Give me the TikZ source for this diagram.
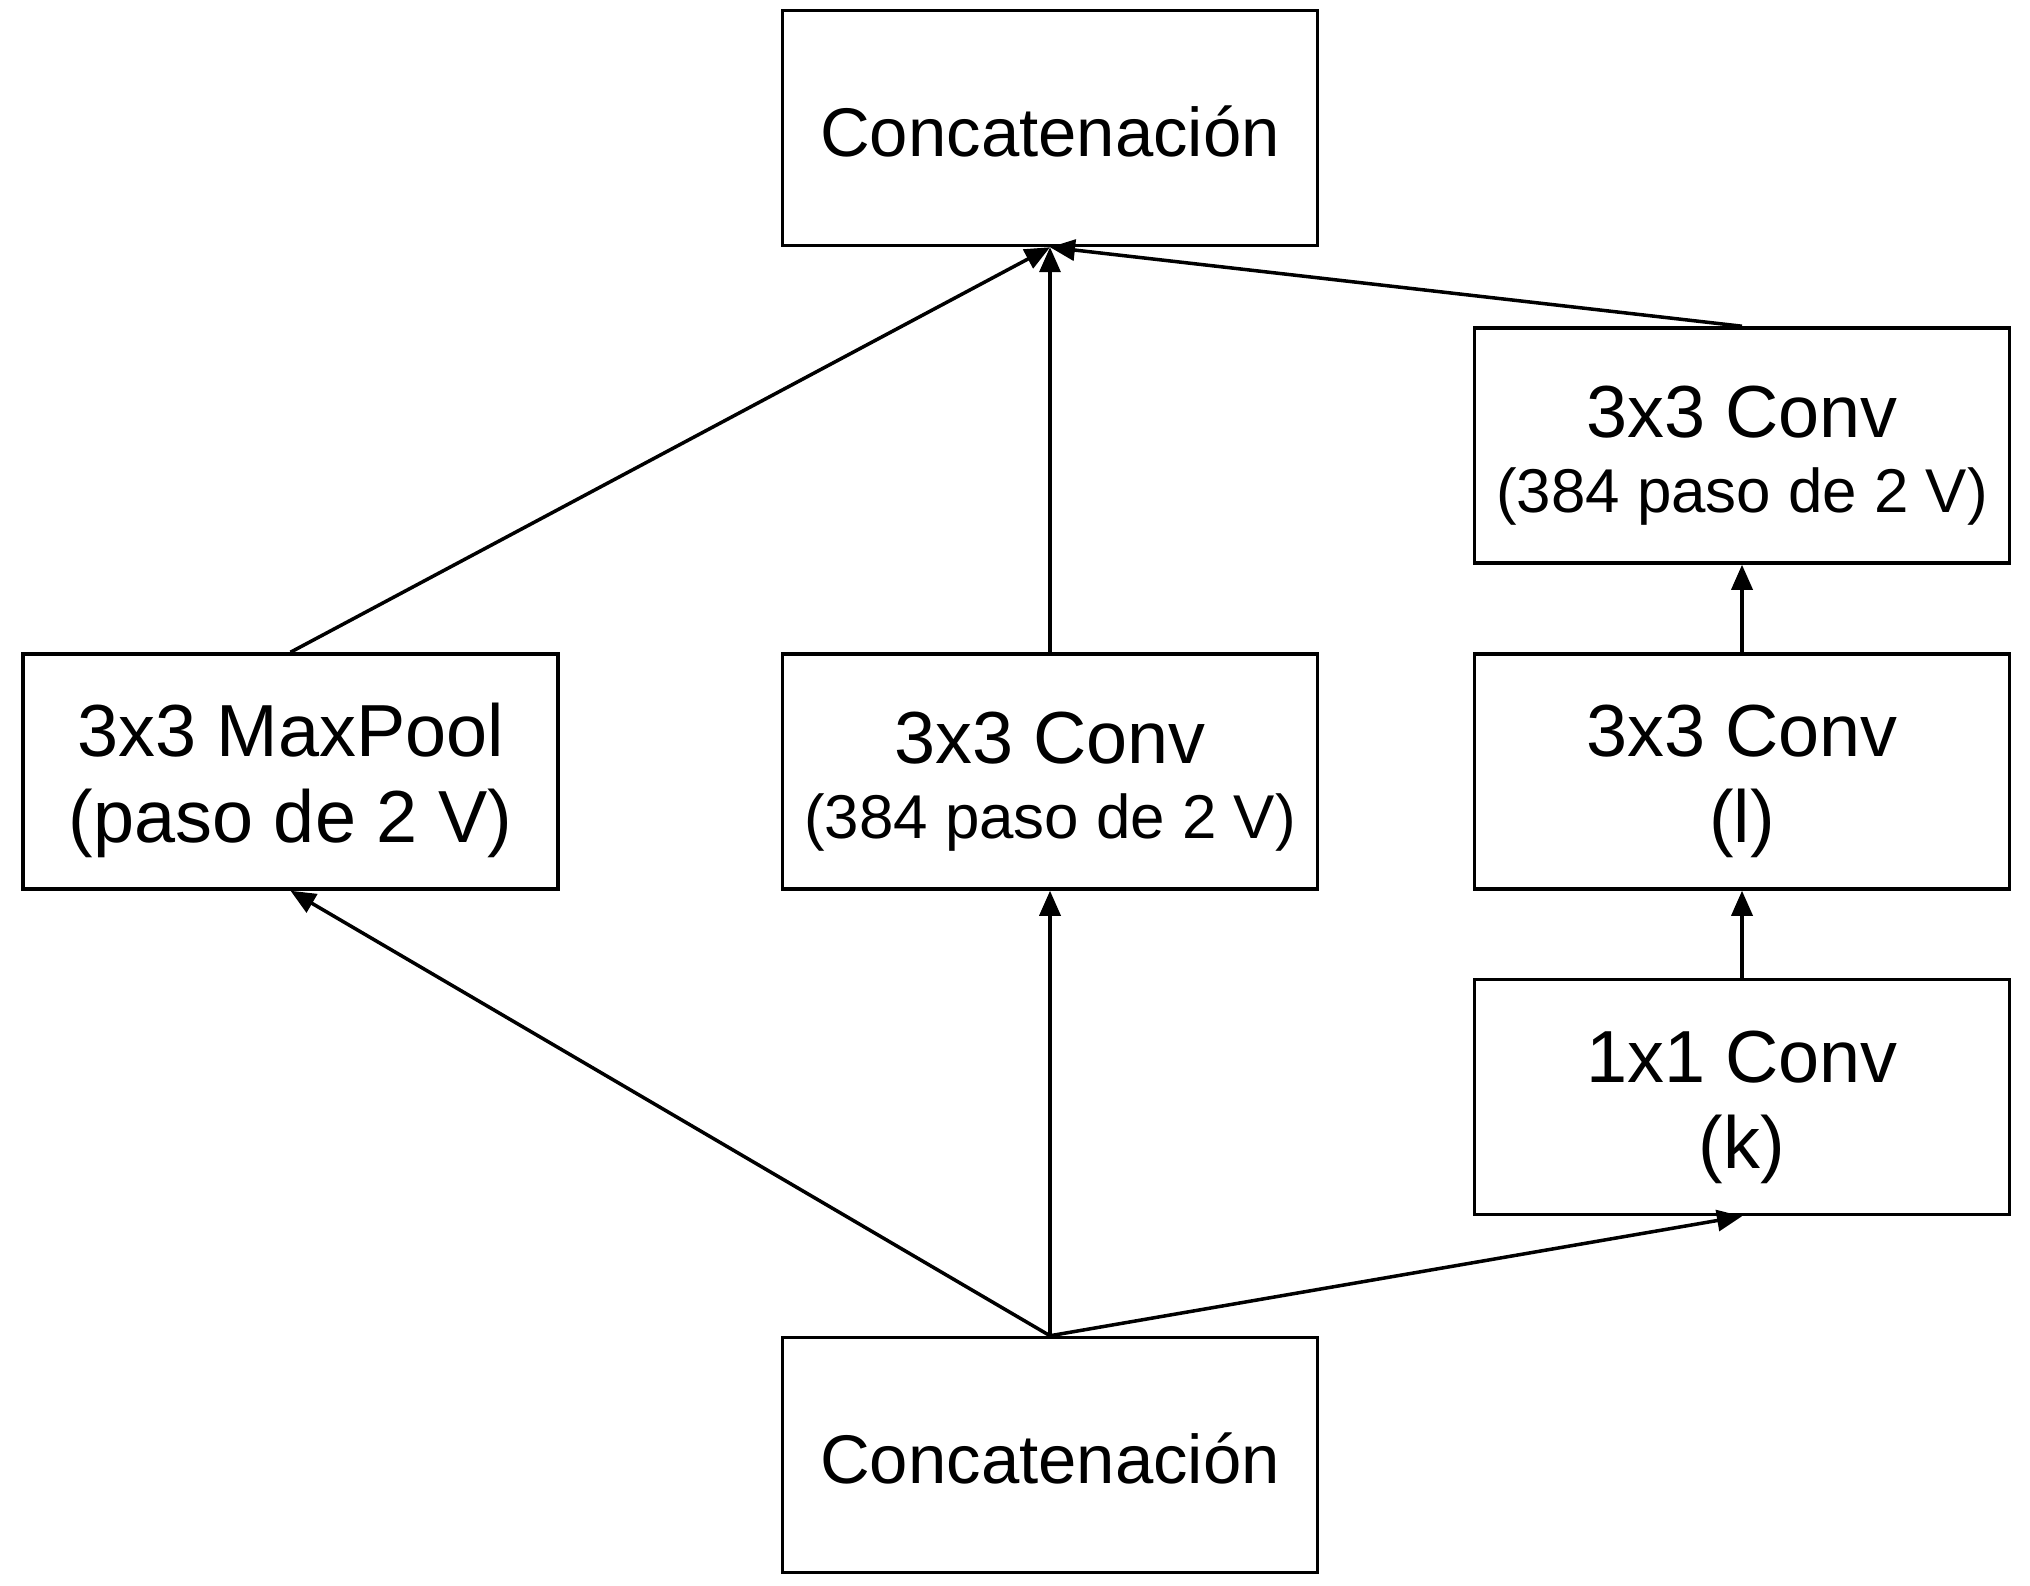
\documentclass[tikz,border=0pt]{standalone}
\usepackage{fontspec}
\setmainfont{Liberation Sans}
\usetikzlibrary{arrows.meta}
\newcommand{\pasotxt}[1]{{\fontsize{17.6}{21}\selectfont #1}}
\newcommand{\lineup}{\rule{0pt}{20.4pt}}

\begin{document}
\begin{tikzpicture}[
  box/.style={draw, line width=1pt, minimum width=5.35cm, minimum height=2.35cm,
              inner sep=0pt, align=center, font=\fontsize{21}{24.4}\selectfont},
  conn/.style={line width=1pt, -{Triangle[length=0.25cm,width=0.21cm]}}
]
\useasboundingbox (0,0) rectangle (20.30,-15.86);
\node[box, font=\fontsize{19.6}{23}\selectfont] (top) at (10.50,-1.28) {\rule{0pt}{16.4pt}Concatenación};
\node[box] (pool)  at (2.905,-7.715) {\lineup 3x3 MaxPool\\(paso de 2 V)};
\node[box] (conv)  at (10.50,-7.715) {\lineup 3x3 Conv\\[-3pt]\pasotxt{(384 paso de 2 V)}};
\node[box] (convb) at (17.42,-4.455) {\lineup 3x3 Conv\\[-3pt]\pasotxt{(384 paso de 2 V)}};
\node[box] (conva) at (17.42,-7.715) {\lineup 3x3 Conv\\(l)};
\node[box] (red)   at (17.42,-10.97) {\lineup 1x1 Conv\\(k)};
\node[box, font=\fontsize{19.6}{23}\selectfont] (bot) at (10.50,-14.55) {\rule{0pt}{16.4pt}Concatenación};

% salidas hacia la concatenacion de arriba
\draw[conn] (pool.north) -- (top.south);
\draw[conn] (conv.north) -- (top.south);
\draw[conn] (convb.north) -- (top.south);
% entradas desde la concatenacion de abajo
\draw[conn] (bot.north) -- (pool.south);
\draw[conn] (bot.north) -- (conv.south);
\draw[conn] (bot.north) -- (red.south);
\draw[conn] (red.north) -- (conva.south);
\draw[conn] (conva.north) -- (convb.south);
\end{tikzpicture}
\end{document}
